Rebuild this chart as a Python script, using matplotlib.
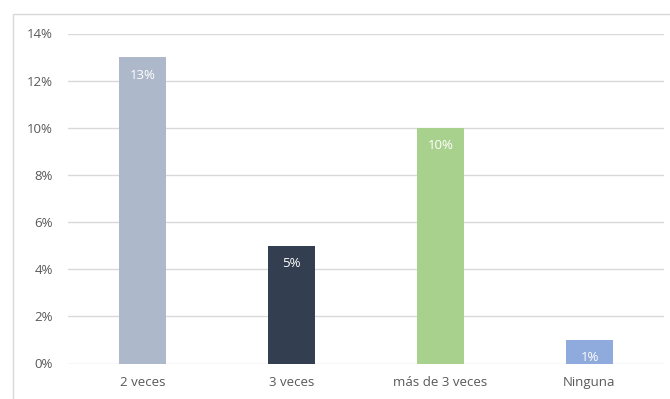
import matplotlib.pyplot as plt
from matplotlib.patches import Rectangle
from matplotlib.ticker import FuncFormatter

categorias = ['2 veces', '3 veces', 'más de 3 veces', 'Ninguna']
valores = [13, 5, 10, 1]
colores = ['#ADB9CA', '#333F50', '#A9D18E', '#8FAADC']

plt.rcParams['font.family'] = ['Open Sans', 'DejaVu Sans']

fig = plt.figure(figsize=(6.7, 3.99), dpi=100)
W, H = 670, 399

# marco del gráfico
fig.patches.append(Rectangle((13 / W, -0.1), 1.2, 1 - 14 / H + 0.1,
                             transform=fig.transFigure, fill=False,
                             edgecolor='#D9D9D9', linewidth=1))

ax = fig.add_axes([68 / W, (H - 363.5) / H, (664 - 68) / W, (363.5 - 33.5) / H])
ax.set_facecolor('none')

x = range(len(categorias))
barras = ax.bar(x, valores, width=0.31, color=colores, zorder=2)
for b, v in zip(barras, valores):
    ax.annotate(f'{v}%', (b.get_x() + b.get_width() / 2, v),
                xytext=(0, -13), textcoords='offset points',
                ha='center', va='center', color='white', fontsize=9.5)

ax.set_xlim(-0.5, len(categorias) - 0.5)
ax.set_ylim(0, 14)
ax.set_yticks(range(0, 15, 2))
ax.yaxis.set_major_formatter(FuncFormatter(lambda v, p: f'{v:.0f}%'))
ax.set_xticks(list(x))
ax.set_xticklabels(categorias)
ax.grid(axis='y', color='#D9D9D9', linewidth=1, zorder=0)
for s in ax.spines.values():
    s.set_visible(False)
ax.tick_params(length=0, colors='#595959', labelsize=9.5)
ax.tick_params(axis='y', pad=11)
ax.tick_params(axis='x', pad=9)

fig.savefig('out.png', dpi=100)
